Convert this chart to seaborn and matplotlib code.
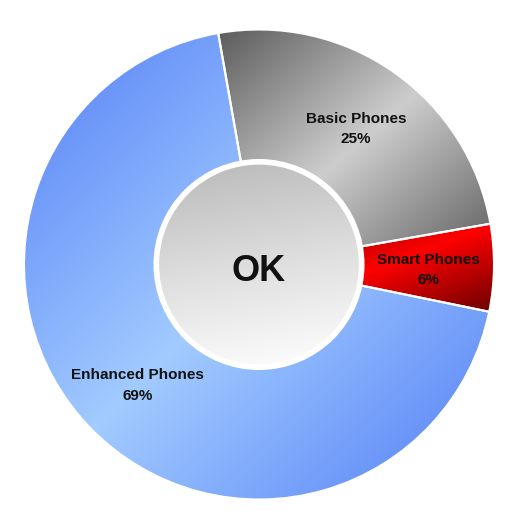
import numpy as np
import matplotlib
matplotlib.use("Agg")
import matplotlib.pyplot as plt
import matplotlib.patches as mpatches
from matplotlib import font_manager
from matplotlib.transforms import ScaledTranslation
import seaborn as sns

phones = ["Basic Phones", "Smart Phones", "Enhanced Phones"]
shares = [25, 6, 69]
center_text = "OK"

# gradient stops per wedge: dark edge -> light middle -> dark edge
dark_colors = ["#5c5c5c", "#6a0000", "#5480f6"]
light_colors = ["#cdcdcd", "#ff0000", "#a2cbff"]

sns.set_style("white")
installed = {f.name for f in font_manager.fontManager.ttflist}
label_font = "Liberation Sans Narrow" if "Liberation Sans Narrow" in installed else "Liberation Sans"
label_size = 12.5 if label_font == "Liberation Sans Narrow" else 11
plt.rcParams["font.family"] = ["Liberation Sans", "DejaVu Sans"]

fig = plt.figure(figsize=(5.12, 5.26), dpi=100)
ax = fig.add_axes([0, 0, 1, 1])

wedges, _, autotexts = ax.pie(shares,
                              startangle=100,
                              counterclock=False,
                              radius=1.0,
                              autopct="%.0f%%",
                              pctdistance=0.72,
                              wedgeprops=dict(facecolor="none",
                                              edgecolor="white",
                                              linewidth=1.5))

# diagonal reflected gradient inside each wedge
grid = np.linspace(0, 1, 300)
gx, gy = np.meshgrid(grid, grid)
diag = (gx + gy) / 2
for w, dark, light in zip(wedges, dark_colors, light_colors):
    bb = w.get_path().get_extents()
    cmap = sns.blend_palette([dark, light, dark], as_cmap=True)
    im = ax.imshow(diag, cmap=cmap, vmin=0, vmax=1,
                   extent=(bb.x0, bb.x1, bb.y0, bb.y1),
                   origin="upper", interpolation="bilinear", zorder=0)
    im.set_clip_path(w)

# the hole: white ring + grey-to-white disc
ring = mpatches.Circle((0, 0), 0.449, facecolor="white", edgecolor="none", zorder=3)
ax.add_patch(ring)
disc = mpatches.Circle((0, 0), 0.425, facecolor="none", edgecolor="none", zorder=4)
ax.add_patch(disc)
hole_cmap = sns.blend_palette(["#b9b9b9", "#dedede", "#ffffff"], as_cmap=True)
vert = np.tile(np.linspace(0, 1, 300)[:, None], (1, 300)) * 0.85 + gx * 0.15
im = ax.imshow(vert, cmap=hole_cmap, vmin=0, vmax=1,
               extent=(-0.425, 0.425, -0.425, 0.425),
               origin="upper", interpolation="bilinear", zorder=4)
im.set_clip_path(disc)

ax.text(0, -0.07, center_text, ha="center", va="baseline",
        fontsize=26, fontweight="bold", color="#111111", zorder=6)

shift = ScaledTranslation(0, -3 / 100, fig.dpi_scale_trans)
for t, name in zip(autotexts, phones):
    t.set_text(f"{name}\n{t.get_text()}")
    t.set(fontsize=label_size, fontweight="bold", family=[label_font, "DejaVu Sans"],
          linespacing=1.6, color="#111111", zorder=6)
    t.set_transform(ax.transData + shift)

ax.set_aspect("auto")
ax.set_xlim(-259 / 235, 253 / 235)
ax.set_ylim(-261.5 / 235, 264.5 / 235)
ax.axis("off")

fig.savefig("out.png", dpi=100)
